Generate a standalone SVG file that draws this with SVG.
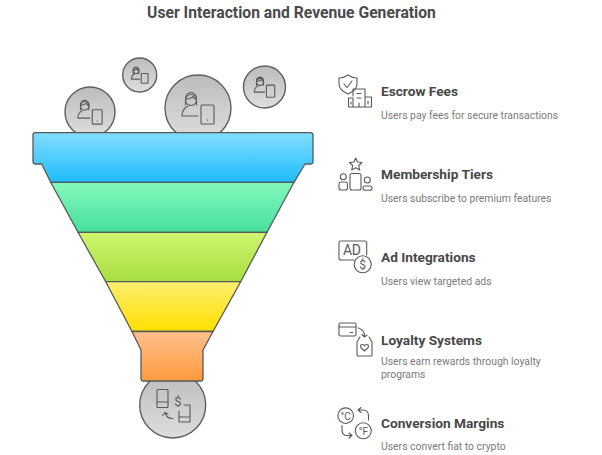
<svg xmlns="http://www.w3.org/2000/svg" width="602" height="455" viewBox="0 0 602 455">
<style>
.t{font-family:Roboto,"Liberation Sans",sans-serif;font-weight:700;font-size:13.7px;fill:#484848}
.d{font-family:Roboto,"Liberation Sans",sans-serif;font-size:10.4px;fill:#7b7b7b}
.c{stroke:#5f5f5f;stroke-width:1.4;fill:url(#g)}
.i{fill:none;stroke:#5a5a5a;stroke-width:1.1;stroke-linecap:round;stroke-linejoin:round;vector-effect:non-scaling-stroke}
.g{font-family:Roboto,"Liberation Sans",sans-serif;fill:#5a5a5a;text-anchor:middle}
.f{stroke:#55595a;stroke-width:1.3;stroke-linejoin:round}
</style>
<defs>
<linearGradient id="g" x1="0" y1="0" x2="0" y2="1"><stop offset="0" stop-color="#bcbcbc"/><stop offset="1" stop-color="#dedede"/></linearGradient>
<linearGradient id="b" x1="0" y1="0" x2="0" y2="1"><stop offset="0" stop-color="#82deff"/><stop offset="1" stop-color="#1fbcfd"/></linearGradient>
<linearGradient id="gr" x1="0" y1="0" x2="0" y2="1"><stop offset="0" stop-color="#84f8bd"/><stop offset="1" stop-color="#47e09c"/></linearGradient>
<linearGradient id="l" x1="0" y1="0" x2="0" y2="1"><stop offset="0" stop-color="#cff56f"/><stop offset="1" stop-color="#a8de40"/></linearGradient>
<linearGradient id="y" x1="0" y1="0" x2="0" y2="1"><stop offset="0" stop-color="#ffee70"/><stop offset="1" stop-color="#ffe000"/></linearGradient>
<linearGradient id="o" x1="0" y1="0" x2="0" y2="1"><stop offset="0" stop-color="#ffc08c"/><stop offset="1" stop-color="#ff9a3e"/></linearGradient>
<g id="user">
<circle class="i" cx="-7" cy="-8" r="5.500"/>
<path class="i" d="M-12.500-7.500Q-13-15-7-15.500Q-1-15-1.500-7.500V-3M-12.500-7.500V-3M-11.500-9Q-7-9-5-11.500Q-4-9-2.500-9"/>
<path class="i" d="M-10-2Q-16 1-16 8H0"/>
<rect class="i" x="3" y="-3" width="13" height="19" rx="1"/>
<circle cx="9.500" cy="12" r=".7" fill="#5a5a5a"/>
</g>
</defs>
<rect width="602" height="455" fill="#fff"/>
<text x="291.500" y="18" text-anchor="middle" font-family="Roboto,'Liberation Sans',sans-serif" font-weight="700" font-size="15.700" fill="#4a4a4a">User Interaction and Revenue Generation</text>

<g id="connectors"></g>

<g id="user-1"><circle class="c" cx="90" cy="112" r="25"/><use href="#user" transform="translate(90,112) scale(.76)"/></g>
<g id="user-2"><circle class="c" cx="139.700" cy="75" r="17"/><use href="#user" transform="translate(139.700,75) scale(.52)"/></g>
<g id="user-3"><circle class="c" cx="198" cy="108" r="33"/><use href="#user" transform="translate(198,108)"/></g>
<g id="user-4"><circle class="c" cx="264.500" cy="87" r="21"/><use href="#user" transform="translate(264.500,87) scale(.64)"/></g>

<g id="funnel">
<path class="f" fill="url(#b)" d="M35.500 132.700H310.500Q313 132.700 313 135.200V161.500Q313 164 310.500 164H305L294 182.300H50.700L41.700 164H35.500Q33 164 33 161.500V135.200Q33 132.700 35.500 132.700Z"/>
<path class="f" fill="url(#gr)" d="M50.700 182.300H294L267 232.300H78Z"/>
<path class="f" fill="url(#l)" d="M78 232.300H267L240.700 281.700H105.700Z"/>
<path class="f" fill="url(#y)" d="M105.700 281.700H240.700L213 331.500H132Z"/>
</g>
<g id="user-5"><circle class="c" cx="172.700" cy="405" r="33"/>
<rect class="i" x="157" y="389.500" width="11" height="18" rx="1"/>
<path class="i" d="M157 402H168M184 405H190V422H179V411M179 417H190M173 418.500Q167 419 165 412.500M165 412.500L162.500 415.500M165 412.500L168 414"/>
<text class="g" x="178" y="406" font-size="13">$</text></g>
<g id="spout"><path class="f" fill="url(#o)" d="M132 331.500H213L203 350V378.500Q203 381 200.500 381H143.500Q141 381 141 378.500V350Z"/></g>

<g id="escrow">
<path class="i" d="M348 75Q352 78 357 78V84Q357 90 348 94Q339 90 339 84V78Q344 78 348 75Z"/>
<path class="i" d="M344 84L347 87.500L352 81"/>
<path class="i" d="M353 96V89H365V97M353 98H348.500V107H371.500V97H365M353 98V107M365 97V107M357 93.500H361M357 98H361M351 102V104M368 101V104M359 103V107"/>
<text class="t" x="381" y="96">Escrow Fees</text><text class="d" x="381" y="119">Users pay fees for secure transactions</text>
</g>
<g id="membership">
<path class="i" d="M355.700 158L357.500 162L362 162.500L358.700 165.500L359.700 170L355.700 167.700L351.700 170L352.700 165.500L349.400 162.500L353.900 162Z"/>
<rect class="i" x="350" y="173.500" width="11" height="16.500" rx="2"/>
<circle class="i" cx="343.300" cy="176.700" r="3"/><rect class="i" x="339" y="182" width="8.500" height="8" rx="2"/>
<circle class="i" cx="367.300" cy="180" r="3"/><rect class="i" x="363" y="186" width="9" height="4.200" rx="2"/>
<text class="t" x="381" y="179">Membership Tiers</text><text class="d" x="381" y="202">Users subscribe to premium features</text>
</g>
<g id="ad">
<path class="i" d="M366.700 255V243Q366.700 241 364.700 241H341Q339 241 339 243V258Q339 260 341 260H354"/>
<circle class="i" cx="362.700" cy="264.300" r="8.500"/>
<text class="g" x="352" y="255" font-size="14" textLength="18" lengthAdjust="spacing">AD</text>
<text class="g" x="362.700" y="268.500" font-size="12">$</text>
<text class="t" x="381" y="262">Ad Integrations</text><text class="d" x="381" y="285">Users view targeted ads</text>
</g>
<g id="loyalty">
<rect class="i" x="339" y="323" width="17" height="13" rx="1.500"/>
<path class="i" d="M339 327H356M350 332.500H352.500M358.500 328Q365 330 364.500 337M364.500 337L362 334.500M364.500 337L367 335"/>
<path class="i" d="M360 337L357 342V355Q357 356 358 356H371Q372 356 372 355V342L369 337"/>
<path class="i" d="M364.500 351L360.800 347.500Q359.800 344.500 362.500 344.500Q364 344.500 364.500 346Q365 344.500 366.500 344.500Q369.200 344.500 368.200 347.500Z"/>
<text class="t" x="381" y="345">Loyalty Systems</text><text class="d" x="381" y="365">Users earn rewards through loyalty</text><text class="d" x="381" y="378">programs</text>
</g>
<g id="conversion">
<circle class="i" cx="345.700" cy="415.700" r="7.800"/><circle class="i" cx="363.300" cy="430.700" r="8"/>
<text class="g" x="345.700" y="419.500" font-size="10">°C</text><text class="g" x="363.300" y="434.500" font-size="10">°F</text>
<path class="i" d="M358 410H363Q368.500 410 368.500 416V420M358 410L361 407.500M358 410L361 412.500M342 425.500V430Q342 435.500 347 435.500H352M352 435.500L349 433M352 435.500L349 438"/>
<text class="t" x="381" y="428">Conversion Margins</text><text class="d" x="381" y="450">Users convert fiat to crypto</text>
</g>
</svg>
